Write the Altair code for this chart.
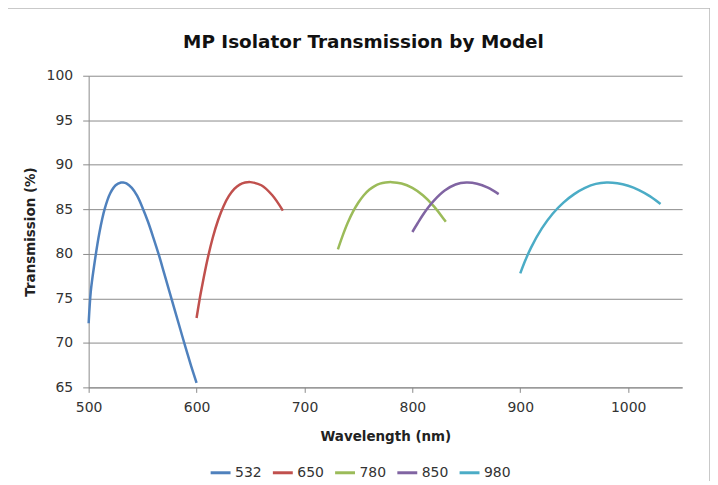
import altair as alt
import pandas as pd

models = ["532", "650", "780", "850", "980"]
colors = ["#4F81BD", "#C0504D", "#9BBB59", "#8064A2", "#4BACC6"]

wl_532 = [500, 502, 505, 510, 515, 520, 525, 530, 532, 535, 540, 545, 550, 555, 560, 565, 570, 575, 580, 585, 590, 595, 600]
t_532 = [72.2, 75.8, 78.6, 82.4, 85.1, 86.8, 87.7, 88.0, 88.0, 87.9, 87.4, 86.5, 85.15, 83.6, 81.8, 79.9, 77.8, 75.7, 73.6, 71.5, 69.4, 67.4, 65.5]

wl_650 = [600, 603, 605, 610, 615, 620, 625, 630, 635, 640, 645, 650, 660, 670, 680]
t_650 = [72.8, 75.0, 76.3, 79.3, 81.8, 83.8, 85.35, 86.5, 87.3, 87.78, 88.0, 88.05, 87.7, 86.6, 84.85]

wl_780 = [731, 735, 740, 745, 750, 755, 760, 765, 770, 775, 781, 790, 800, 810, 820, 830, 831]
t_780 = [80.5, 81.9, 83.45, 84.73, 85.76, 86.58, 87.19, 87.61, 87.88, 88.01, 88.05, 87.9, 87.4, 86.55, 85.33, 83.76, 83.6]

wl_850 = [800, 805, 810, 815, 820, 830, 840, 850, 860, 870, 880]
t_850 = [82.45, 83.46, 84.42, 85.26, 85.98, 87.1, 87.78, 88.0, 87.87, 87.42, 86.7]

wl_980 = [900, 905, 910, 920, 930, 940, 950, 960, 970, 980, 990, 1000, 1010, 1020, 1030]
t_980 = [77.8, 79.35, 80.7, 82.85, 84.5, 85.75, 86.7, 87.4, 87.85, 88.0, 87.92, 87.64, 87.16, 86.48, 85.6]

x_ticks = [500, 600, 700, 800, 900, 1000]
y_ticks = [65, 70, 75, 80, 85, 90, 95, 100]
chart_title = "MP Isolator Transmission by Model"

series = {"532": (wl_532, t_532), "650": (wl_650, t_650), "780": (wl_780, t_780),
          "850": (wl_850, t_850), "980": (wl_980, t_980)}
rows = []
for m in models:
    for w, t in zip(*series[m]):
        rows.append({"Model": m, "Wavelength": w, "Transmission": t})
df = pd.DataFrame(rows)

FONT = "DejaVu Sans"
GRID = "#8a8a8a"

lines = alt.Chart(df).mark_line(strokeWidth=2.5, interpolate="catmull-rom").encode(
    x=alt.X("Wavelength:Q",
            scale=alt.Scale(domain=[500, 1050], nice=False, zero=False),
            axis=alt.Axis(values=x_ticks, format="d", title="Wavelength (nm)", grid=False,
                          tickSize=5, labelPadding=8, titlePadding=15, labelFlush=False)),
    y=alt.Y("Transmission:Q",
            scale=alt.Scale(domain=[65, 100], nice=False, zero=False),
            axis=alt.Axis(values=y_ticks, title="Transmission (%)", grid=True,
                          tickSize=6, labelPadding=10, titlePadding=9, labelFlush=False)),
    color=alt.Color("Model:N", scale=alt.Scale(domain=models, range=colors),
                    legend=alt.Legend(title=None, orient="none", direction="horizontal",
                                      legendX=121, legendY=387,
                                      symbolType="stroke", symbolSize=400,
                                      symbolStrokeWidth=3, labelOffset=3,
                                      columnPadding=4.5, labelFontSize=14,
                                      labelLimit=400,
                                      labelFont=FONT, labelColor="#333333")),
    detail="Model:N",
)

border = alt.Chart(pd.DataFrame({"a": [0]})).mark_rect(
    fill=None, stroke="#b8b8b8", strokeWidth=1.5, clip=False
).encode(x=alt.value(-84), x2=alt.value(624), y=alt.value(-68), y2=alt.value(440))

title = alt.Chart(pd.DataFrame({"t": [chart_title]})).mark_text(
    font=FONT, fontSize=18.5, fontWeight="bold", color="#111111",
    align="center", baseline="middle", clip=False
).encode(text="t:N", x=alt.value(276), y=alt.value(-34))

chart = alt.layer(border, lines, title).properties(
    width=596, height=313,
    autosize=alt.AutoSizeParams(type="none"),
    padding={"left": 81, "top": 67, "right": 28, "bottom": 93},
).configure_view(stroke=None).configure_axis(
    labelFont=FONT, labelFontSize=14, labelColor="#333333",
    titleFont=FONT, titleFontSize=13.5, titleFontWeight="bold", titleColor="#222222",
    domainColor=GRID, tickColor=GRID, gridColor=GRID, gridWidth=1, domainWidth=1,
)

chart.save("out.html", embed_options={"renderer": "svg", "actions": False})
